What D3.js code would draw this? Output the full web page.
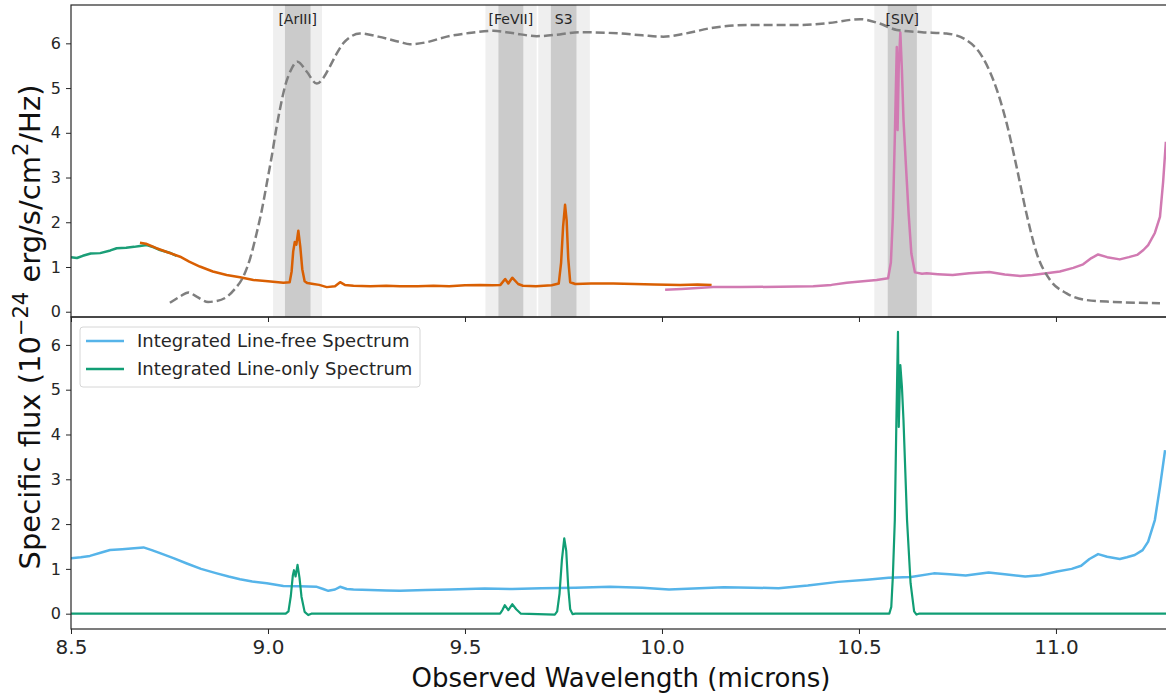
<!DOCTYPE html>
<html>
<head>
<meta charset="utf-8">
<script src="https://cdn.jsdelivr.net/npm/d3@7"></script>
<style>
  html, body { margin: 0; padding: 0; background: #fff; }
  svg { display: block; font-family: "DejaVu Sans", sans-serif; }
</style>
</head>
<body>
<svg id="chart" width="1166" height="693"></svg>
<script>
// ---------------- DATA ----------------
const xTicks = [8.5, 9.0, 9.5, 10.0, 10.5, 11.0];
const yTicks = [0, 1, 2, 3, 4, 5, 6];

// emission-line windows (outer = light, inner = dark)
const lineNames  = ["[ArIII]", "[FeVII]", "S3", "[SIV]"];
const bandOuter  = [[9.013, 9.137], [9.552, 9.682], [9.686, 9.817], [10.539, 10.685]];
const bandInner  = [[9.043, 9.108], [9.585, 9.648], [9.718, 9.783], [10.573, 10.647]];

// top panel: green segment
const greenTop = [[8.5,1.22],[8.515,1.2],[8.53,1.25],[8.55,1.3],[8.574,1.31],[8.6,1.37],[8.616,1.42],
  [8.64,1.43],[8.66,1.45],[8.675,1.47],[8.692,1.49],[8.71,1.44],[8.726,1.38],[8.75,1.32],[8.768,1.25]];

// top panel: orange segment
const orangeTop = [[8.675,1.54],[8.69,1.52],[8.717,1.42],[8.745,1.33],[8.777,1.23],[8.80,1.12],[8.827,1.01],
  [8.86,0.9],[8.895,0.82],[8.929,0.77],[8.963,0.71],[9.0,0.68],[9.039,0.65],[9.055,0.66],[9.06,0.9],
  [9.064,1.35],[9.068,1.56],[9.072,1.5],[9.077,1.81],[9.082,1.45],[9.087,0.95],[9.093,0.68],[9.1,0.64],
  [9.115,0.62],[9.13,0.6],[9.149,0.55],[9.17,0.57],[9.183,0.66],[9.195,0.6],[9.217,0.58],[9.26,0.57],
  [9.3,0.58],[9.335,0.57],[9.38,0.57],[9.42,0.58],[9.46,0.57],[9.5,0.59],[9.538,0.6],[9.57,0.59],
  [9.59,0.6],[9.602,0.73],[9.61,0.63],[9.62,0.76],[9.635,0.62],[9.647,0.58],[9.68,0.57],[9.72,0.59],
  [9.738,0.63],[9.744,1.1],[9.749,1.9],[9.754,2.39],[9.758,2.05],[9.762,1.2],[9.767,0.66],[9.78,0.62],
  [9.82,0.63],[9.876,0.63],[9.93,0.62],[9.98,0.61],[10.046,0.6],[10.09,0.61],[10.126,0.6]];

// top panel: pink segment
const pinkTop = [[10.008,0.49],[10.05,0.51],[10.13,0.55],[10.2,0.55],[10.3,0.56],[10.384,0.57],[10.43,0.6],
  [10.469,0.65],[10.51,0.68],[10.545,0.71],[10.574,0.75],[10.581,1.1],[10.586,2.1],[10.591,3.9],
  [10.596,5.92],[10.598,4.06],[10.601,5.5],[10.605,6.24],[10.609,5.4],[10.613,4.3],[10.619,3.3],
  [10.626,2.2],[10.633,1.3],[10.642,0.88],[10.66,0.85],[10.672,0.86],[10.7,0.84],[10.738,0.82],
  [10.78,0.86],[10.831,0.89],[10.87,0.83],[10.909,0.8],[10.94,0.82],[10.976,0.86],[11.01,0.9],
  [11.044,0.98],[11.069,1.06],[11.09,1.2],[11.107,1.28],[11.13,1.22],[11.162,1.17],[11.185,1.22],
  [11.206,1.27],[11.222,1.38],[11.234,1.49],[11.251,1.76],[11.264,2.12],[11.272,2.9],[11.279,3.8]];

// top panel: filter throughput (dashed)
const filterCurve = [[8.751,0.2],[8.775,0.33],[8.798,0.43],[8.82,0.33],[8.848,0.22],[8.87,0.24],[8.895,0.33],
  [8.915,0.5],[8.937,0.78],[8.955,1.2],[8.971,1.75],[8.985,2.3],[8.997,2.87],[9.01,3.5],[9.022,4.14],
  [9.032,4.6],[9.043,5.03],[9.058,5.4],[9.075,5.59],[9.098,5.37],[9.124,5.1],[9.14,5.22],[9.157,5.48],
  [9.175,5.78],[9.191,6.0],[9.21,6.15],[9.233,6.22],[9.28,6.15],[9.335,6.03],[9.36,5.98],[9.40,6.02],
  [9.454,6.15],[9.51,6.23],[9.572,6.28],[9.62,6.23],[9.682,6.16],[9.74,6.2],[9.792,6.25],[9.893,6.22],
  [9.95,6.18],[10.003,6.15],[10.06,6.22],[10.13,6.35],[10.215,6.41],[10.342,6.41],[10.42,6.45],
  [10.503,6.54],[10.55,6.45],[10.596,6.3],[10.66,6.25],[10.722,6.22],[10.773,6.07],[10.807,5.78],
  [10.841,5.18],[10.875,4.21],[10.9,3.24],[10.925,2.2],[10.951,1.31],[10.985,0.71],[11.027,0.41],
  [11.078,0.26],[11.146,0.22],[11.264,0.19]];

// bottom panel: integrated line-free spectrum
const lineFree = [[8.5,1.24],[8.525,1.26],[8.548,1.29],[8.575,1.36],[8.599,1.42],[8.63,1.44],[8.66,1.46],
  [8.684,1.48],[8.705,1.42],[8.726,1.35],[8.76,1.24],[8.794,1.12],[8.83,1.0],[8.87,0.9],[8.9,0.83],
  [8.929,0.77],[8.96,0.72],[8.997,0.68],[9.039,0.62],[9.08,0.61],[9.124,0.6],[9.14,0.55],[9.153,0.51],
  [9.17,0.54],[9.183,0.6],[9.2,0.55],[9.217,0.54],[9.26,0.53],[9.3,0.52],[9.335,0.51],[9.4,0.53],
  [9.462,0.54],[9.55,0.56],[9.62,0.55],[9.694,0.57],[9.78,0.58],[9.868,0.6],[9.95,0.58],[10.018,0.54],
  [10.08,0.56],[10.157,0.59],[10.23,0.58],[10.296,0.57],[10.37,0.63],[10.447,0.71],[10.52,0.76],
  [10.575,0.8],[10.632,0.82],[10.69,0.9],[10.73,0.88],[10.771,0.85],[10.829,0.92],[10.87,0.88],
  [10.922,0.83],[10.96,0.86],[11.003,0.94],[11.04,1.0],[11.064,1.07],[11.085,1.22],[11.107,1.33],
  [11.13,1.27],[11.162,1.22],[11.18,1.26],[11.2,1.31],[11.22,1.42],[11.234,1.61],[11.251,2.09],
  [11.264,2.83],[11.277,3.65]];

// bottom panel: integrated line-only spectrum
const lineOnly = [[8.5,0],[9.045,0],[9.052,0.05],[9.058,0.4],[9.063,0.85],[9.066,0.97],[9.07,0.83],
  [9.075,1.09],[9.08,0.8],[9.085,0.38],[9.093,0.04],[9.102,-0.03],[9.11,0],[9.589,0],[9.595,0.08],
  [9.601,0.19],[9.61,0.08],[9.62,0.21],[9.63,0.1],[9.642,0],[9.728,-0.02],[9.734,0.05],[9.74,0.45],
  [9.746,1.2],[9.752,1.68],[9.757,1.4],[9.762,0.6],[9.767,0.1],[9.773,-0.01],[9.78,0],[10.577,0],
  [10.582,0.15],[10.586,0.83],[10.591,2.09],[10.595,4.32],[10.599,6.29],[10.601,4.17],[10.605,5.55],
  [10.609,5.07],[10.613,4.32],[10.622,2.09],[10.631,0.68],[10.64,0.05],[10.646,-0.02],[10.652,0],
  [11.3,0]];

const legendLabels = ["Integrated Line-free Spectrum", "Integrated Line-only Spectrum"];

// ---------------- LAYOUT ----------------
const svg = d3.select("#chart");
const left = 71, right = 1171;
const top1 = 5, bot1 = 317, top2 = 317, bot2 = 629;

const x = d3.scaleLinear().domain([8.5, 11.292]).range([left, right]);
const yT = d3.scaleLinear().domain([-0.118, 6.857]).range([bot1, top1]);
const yB = d3.scaleLinear().domain([-0.342, 6.623]).range([bot2, top2]);

const C = {
  orange: "#D95F02", green: "#1B9E77", pink: "#D17AB2", gray: "#7f7f7f",
  blue: "#56B4E9", green2: "#119E75", light: "#efefef", dark: "#cbcbcb", spine: "#262626"
};

const defs = svg.append("defs");
defs.append("clipPath").attr("id", "clipTop").append("rect")
  .attr("x", left).attr("y", top1).attr("width", right - left).attr("height", bot1 - top1);
defs.append("clipPath").attr("id", "clipBot").append("rect")
  .attr("x", left).attr("y", top2).attr("width", right - left).attr("height", bot2 - top2);

// ---------- top panel ----------
const gT = svg.append("g");
const bandsG = gT.append("g").attr("clip-path", "url(#clipTop)");
bandsG.selectAll("rect.outer").data(bandOuter).join("rect").attr("class", "outer")
  .attr("x", d => x(d[0])).attr("width", d => x(d[1]) - x(d[0]))
  .attr("y", top1).attr("height", bot1 - top1).attr("fill", C.light);
bandsG.selectAll("rect.inner").data(bandInner).join("rect").attr("class", "inner")
  .attr("x", d => x(d[0])).attr("width", d => x(d[1]) - x(d[0]))
  .attr("y", top1).attr("height", bot1 - top1).attr("fill", C.dark);

const lineT = d3.line().x(d => x(d[0])).y(d => yT(d[1]));
const linesT = gT.append("g").attr("clip-path", "url(#clipTop)");
linesT.append("path").datum(greenTop).attr("d", lineT).attr("fill", "none")
  .attr("stroke", C.green).attr("stroke-width", 2.5).attr("stroke-linejoin", "round");
linesT.append("path").datum(orangeTop).attr("d", lineT).attr("fill", "none")
  .attr("stroke", C.orange).attr("stroke-width", 2.5).attr("stroke-linejoin", "round");
linesT.append("path").datum(pinkTop).attr("d", lineT).attr("fill", "none")
  .attr("stroke", C.pink).attr("stroke-width", 2.5).attr("stroke-linejoin", "round");
linesT.append("path").datum(filterCurve).attr("d", d3.line().curve(d3.curveMonotoneX).x(d => x(d[0])).y(d => yT(d[1])))
  .attr("fill", "none").attr("stroke", C.gray).attr("stroke-width", 2.5).attr("stroke-dasharray", "9,4");

gT.selectAll("text.lbl").data(lineNames).join("text").attr("class", "lbl")
  .attr("x", (d, i) => x((bandInner[i][0] + bandInner[i][1]) / 2))
  .attr("y", top1 + 19).attr("text-anchor", "middle")
  .attr("font-size", 14).attr("fill", "#262626").text(d => d);

// ---------- bottom panel ----------
const gB = svg.append("g");
const lineB = d3.line().x(d => x(d[0])).y(d => yB(d[1]));
const linesB = gB.append("g").attr("clip-path", "url(#clipBot)");
linesB.append("path").datum(lineFree).attr("d", lineB).attr("fill", "none")
  .attr("stroke", C.blue).attr("stroke-width", 2.5).attr("stroke-linejoin", "round");
linesB.append("path").datum(lineOnly).attr("d", lineB).attr("fill", "none")
  .attr("stroke", C.green2).attr("stroke-width", 2.2).attr("stroke-linejoin", "round");

// ---------- axes ----------
function styleAxis(g, fs) {
  g.select(".domain").remove();
  g.selectAll(".tick line").attr("stroke", C.spine).attr("stroke-width", 1);
  g.selectAll(".tick text").attr("fill", "#262626").attr("font-size", fs)
    .attr("font-family", "DejaVu Sans, sans-serif");
}
const yAxT = svg.append("g").attr("transform", `translate(${left},0)`)
  .call(d3.axisLeft(yT).tickValues(yTicks).tickSize(5).tickPadding(5).tickFormat(d3.format("d")));
styleAxis(yAxT, 16);
const yAxB = svg.append("g").attr("transform", `translate(${left},0)`)
  .call(d3.axisLeft(yB).tickValues(yTicks).tickSize(5).tickPadding(5).tickFormat(d3.format("d")));
styleAxis(yAxB, 16);
const xAxT = svg.append("g").attr("transform", `translate(0,${bot1})`)
  .call(d3.axisBottom(x).tickValues(xTicks).tickSize(5).tickFormat(""));
styleAxis(xAxT, 20);
const xAxB = svg.append("g").attr("transform", `translate(0,${bot2})`)
  .call(d3.axisBottom(x).tickValues(xTicks).tickSize(5).tickPadding(6).tickFormat(d3.format(".1f")));
styleAxis(xAxB, 20);

// spines
[[top1, bot1], [top2, bot2]].forEach(([t, b]) => {
  svg.append("rect").attr("x", left).attr("y", t).attr("width", right - left).attr("height", b - t)
    .attr("fill", "none").attr("stroke", C.spine).attr("stroke-width", 1.2);
});

// ---------- legend ----------
const leg = svg.append("g");
leg.append("rect").attr("x", 80).attr("y", 327).attr("width", 340).attr("height", 60)
  .attr("rx", 3).attr("fill", "#fff").attr("fill-opacity", 0.8)
  .attr("stroke", "#d6d6d6").attr("stroke-width", 1);
const legColors = [C.blue, C.green2];
legendLabels.forEach((lab, i) => {
  const yy = 341 + i * 28;
  leg.append("line").attr("x1", 86).attr("x2", 124).attr("y1", yy).attr("y2", yy)
    .attr("stroke", legColors[i]).attr("stroke-width", 2.5);
  leg.append("text").attr("x", 137).attr("y", yy).attr("dy", "0.35em")
    .attr("font-size", 18).attr("fill", "#262626").text(lab);
});

// ---------- axis labels ----------
svg.append("text").attr("x", 621).attr("y", 687).attr("text-anchor", "middle")
  .attr("font-size", 26).attr("fill", "#111").text("Observed Wavelength (microns)");

const yl = svg.append("text").attr("transform", "translate(40,327) rotate(-90)")
  .attr("text-anchor", "middle").attr("font-size", 29).attr("fill", "#111");
yl.append("tspan").text("Specific flux (10");
yl.append("tspan").attr("font-size", 21).attr("dy", -12).text("\u221224");
yl.append("tspan").attr("dy", 12).text(" erg/s/cm");
yl.append("tspan").attr("font-size", 21).attr("dy", -12).text("2");
yl.append("tspan").attr("dy", 12).text("/Hz)");
</script>
</body>
</html>
